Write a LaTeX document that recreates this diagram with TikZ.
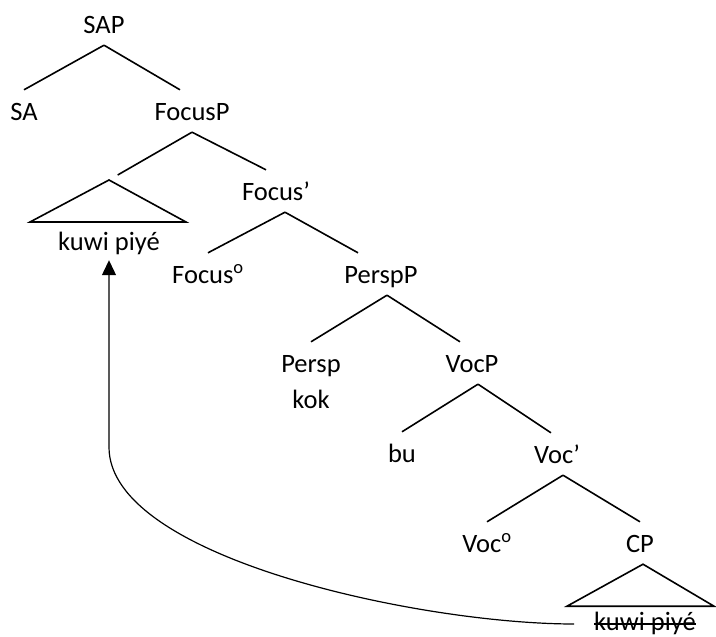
\documentclass[tikz,border=0pt]{standalone}
\usepackage{fontspec}
\setmainfont{Carlito}
\usetikzlibrary{arrows.meta,positioning}

\begin{document}
\begin{tikzpicture}[>={Triangle[length=15pt,width=14pt]},on grid,
    font=\fontsize{26.5}{32}\selectfont,
    cat/.style={inner xsep=0pt,inner ysep=12pt,text height=18pt,text depth=0pt},
    phrase/.style={inner sep=0pt,text height=18pt,text depth=6pt},
    branch/.style={line width=1.6pt}]
  \useasboundingbox (0,0) rectangle (716pt,-637pt);

  \node[cat] (SAP) at (104pt,-24pt) {SAP};
  \node[cat] (SA) [below left=87pt and 80pt of SAP] {SA};
  \node[cat] (FocusP) [below right=87pt and 88pt of SAP] {FocusP};
  \node[phrase] (kuwiTop) [below left=133pt and 83pt of FocusP] {kuwi piyé};
  \node[cat] (FocusBar) [below right=80pt and 84pt of FocusP] {Focus’};
  \node[cat] (FocusHead) [below left=83pt and 68pt of FocusBar] {Focus\textsuperscript{o}};
  \node[cat] (PerspP) [below right=83pt and 105pt of FocusBar] {PerspP};
  \node[cat] (Persp) [below left=89pt and 70pt of PerspP] {Persp};
  \node[cat] (kok) [below=36pt of Persp] {kok};
  \node[cat] (VocP) [below right=89pt and 91pt of PerspP] {VocP};
  \node[cat] (bu) [below left=90pt and 70pt of VocP] {bu};
  \node[cat] (VocBar) [below right=91pt and 85pt of VocP] {Voc’};
  \node[cat] (VocHead) [below left=89pt and 70pt of VocBar] {Voc\textsuperscript{o}};
  \node[cat] (CP) [below right=89pt and 83pt of VocBar] {CP};
  \node[phrase] (kuwiLow) [below right=81pt and 5pt of CP] {kuwi piyé};

  \coordinate[above=64pt of kuwiTop] (topApex);
  \coordinate[below=191pt of kuwiTop.south] (bend);

  \path[branch]
  (SAP.south) edge (SA.north)
  (SAP.south) edge ([xshift=-12pt]FocusP.north)

  (FocusP.south) edge [shorten >=10pt] (topApex)
  (FocusP.south) edge ([xshift=-10pt]FocusBar.north)

  ([xshift=9pt]FocusBar.south) edge (FocusHead.north)
  ([xshift=9pt]FocusBar.south) edge ([xshift=-23pt]PerspP.north)

  ([xshift=6pt]PerspP.south) edge (Persp.north)
  ([xshift=6pt]PerspP.south) edge ([xshift=-12pt]VocP.north)

  ([xshift=6pt]VocP.south) edge (bu.north)
  ([xshift=6pt]VocP.south) edge ([xshift=-6pt]VocBar.north)

  ([xshift=6pt]VocBar.south) edge (VocHead.north)
  ([xshift=6pt]VocBar.south) edge (CP.north)
  ;

  % triangles
  \draw[branch] (topApex) -- ++(-79pt,-42pt) -- ++(156pt,0pt) -- cycle;
  \draw[branch] ([xshift=3pt]CP.south) -- ++(-76pt,-42pt) -- ++(147pt,0pt) -- cycle;

  % struck-out copy and movement arrow
  \draw[line width=1.2pt] (kuwiLow.west) -- (kuwiLow.east);
  \draw[->,line width=1.2pt,shorten <=20pt,shorten >=4pt]
    (kuwiLow.west) .. controls +(-173pt,0pt) and +(0pt,-111pt) .. (bend)
    -- (kuwiTop.south);
\end{tikzpicture}
\end{document}
